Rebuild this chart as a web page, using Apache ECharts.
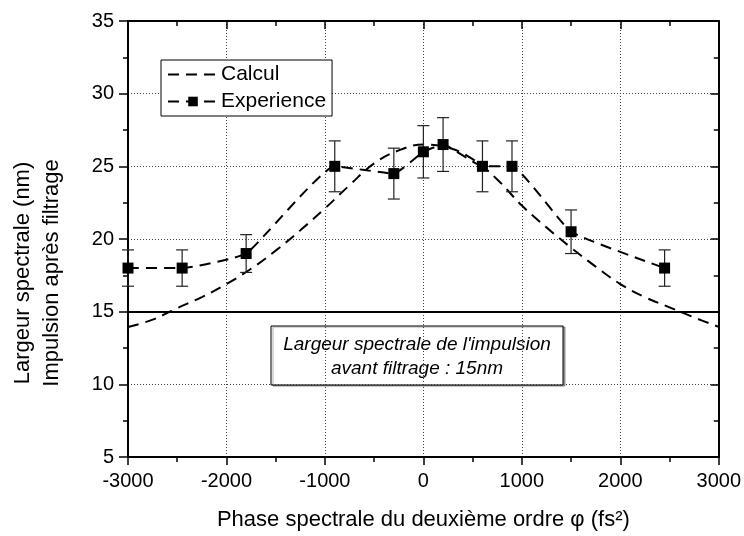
<!DOCTYPE html>
<html>
<head>
<meta charset="utf-8">
<script src="https://cdn.jsdelivr.net/npm/echarts@6/dist/echarts.min.js"></script>
<style>
  html, body { margin: 0; padding: 0; background: #fff; }
  #chart { width: 744px; height: 536px; }
</style>
</head>
<body>
<div id="chart"></div>
<script>
// Calculated spectral width versus second-order spectral phase
const calculPhase = [-3000, -2750, -2500, -2250, -2000, -1750, -1500, -1250, -1000, -750, -500, -250,
                     0, 250, 500, 750, 1000, 1250, 1500, 1750, 2000, 2250, 2500, 2750, 3000];
const calculWidth = [13.95, 14.45, 15.25, 16.0, 16.9, 17.95, 19.2, 20.6, 22.1, 23.7, 25.2, 26.1,
                     26.5, 26.3, 25.5, 24.1, 22.3, 20.8, 19.4, 18.1, 16.9, 16.0, 15.3, 14.6, 13.95];

// Measured spectral width with its uncertainty
const expPhase = [-3000, -2450, -1800, -900, -300, 0, 200, 600, 900, 1500, 2450];
const expWidth = [18, 18, 19, 25, 24.5, 26, 26.5, 25, 25, 20.5, 18];
const expError = [1.25, 1.25, 1.3, 1.75, 1.75, 1.8, 1.85, 1.75, 1.75, 1.5, 1.25];

// Spectral width of the pulse before filtering (nm)
const initialWidth = 15;

const xTicks = { min: -3000, max: 3000, step: 1000 };
const yTicks = { min: 5, max: 35, step: 5 };

const FONT = '"Liberation Sans", Arial, Helvetica, sans-serif';

const calculData = calculPhase.map((x, i) => [x, calculWidth[i]]);
const expData = expPhase.map((x, i) => [x, expWidth[i]]);
const errData = expPhase.map((x, i) => [x, expWidth[i] - expError[i], expWidth[i] + expError[i]]);

const chart = echarts.init(document.getElementById('chart'), null, { renderer: 'canvas' });

const frameAxisLine = { show: true, onZero: false, lineStyle: { color: '#000', width: 2 } };
const tickLine = { color: '#000', width: 1.5 };
const gridDots = { show: true, lineStyle: { color: '#444', width: 1, type: [1, 2] } };
const plainNumber = v => String(v);

const option = {
  animation: false,
  backgroundColor: '#fff',
  grid: { left: 128, right: 23, top: 21, bottom: 78, containLabel: false },
  xAxis: [
    {
      type: 'value', min: xTicks.min, max: xTicks.max, interval: xTicks.step,
      axisLine: frameAxisLine,
      axisTick: { show: true, inside: false, length: 8, lineStyle: tickLine },
      minorTick: { show: true, splitNumber: 2, length: 5, lineStyle: tickLine },
      axisLabel: { color: '#000', fontFamily: FONT, fontSize: 20, margin: 14, formatter: plainNumber },
      splitLine: gridDots,
      name: 'Phase spectrale du deuxième ordre φ (fs²)',
      nameLocation: 'middle', nameGap: 52,
      nameTextStyle: { color: '#000', fontFamily: FONT, fontSize: 22 }
    },
    {
      type: 'value', position: 'top', min: xTicks.min, max: xTicks.max, interval: xTicks.step,
      axisLine: frameAxisLine,
      axisTick: { show: true, inside: true, length: 8, lineStyle: tickLine },
      minorTick: { show: true, splitNumber: 2, length: 5, lineStyle: tickLine },
      axisLabel: { show: false },
      splitLine: { show: false }
    }
  ],
  yAxis: [
    {
      type: 'value', min: yTicks.min, max: yTicks.max, interval: yTicks.step,
      axisLine: frameAxisLine,
      axisTick: { show: true, inside: false, length: 9, lineStyle: tickLine },
      minorTick: { show: true, splitNumber: 2, length: 5, lineStyle: tickLine },
      axisLabel: { color: '#000', fontFamily: FONT, fontSize: 20, margin: 14, formatter: plainNumber },
      splitLine: gridDots
    },
    {
      type: 'value', position: 'right', min: yTicks.min, max: yTicks.max, interval: yTicks.step,
      axisLine: frameAxisLine,
      axisTick: { show: true, inside: true, length: 8, lineStyle: tickLine },
      minorTick: { show: true, splitNumber: 2, length: 5, lineStyle: tickLine },
      axisLabel: { show: false },
      splitLine: { show: false }
    }
  ],
  legend: {
    data: [
      { name: 'Calcul', itemStyle: { opacity: 0 } },
      { name: 'Experience' }
    ],
    orient: 'vertical',
    left: 161, top: 60,
    padding: [4, 6, 4, 6],
    itemWidth: 50, itemHeight: 12, itemGap: 6,
    borderColor: '#000', borderWidth: 1,
    backgroundColor: '#fff',
    textStyle: { color: '#000', fontFamily: FONT, fontSize: 21, padding: [0, 0, 0, -2] },
    selectedMode: false
  },
  series: [
    {
      name: 'Calcul',
      type: 'line',
      data: calculData,
      smooth: 0.4,
      symbol: 'none',
      lineStyle: { color: '#000', width: 2, type: [11, 7] },
      itemStyle: { color: '#000' },
      z: 3,
      markLine: {
        silent: true,
        symbol: 'none',
        label: { show: false },
        lineStyle: { color: '#000', width: 2, type: 'solid' },
        data: [{ yAxis: initialWidth }]
      }
    },
    {
      name: 'Experience',
      type: 'line',
      data: expData,
      smooth: 0.12,
      symbol: 'rect',
      symbolSize: 11,
      lineStyle: { color: '#000', width: 2, type: [11, 7] },
      itemStyle: { color: '#000' },
      z: 5
    },
    {
      name: 'errorBars',
      type: 'custom',
      data: errData,
      z: 4,
      renderItem: function (params, api) {
        const x = api.value(0);
        const lo = api.coord([x, api.value(1)]);
        const hi = api.coord([x, api.value(2)]);
        const half = 6;
        const style = { stroke: '#222', lineWidth: 1.2, fill: null };
        return {
          type: 'group',
          children: [
            { type: 'line', shape: { x1: hi[0], y1: hi[1], x2: lo[0], y2: lo[1] }, style: style },
            { type: 'line', shape: { x1: hi[0] - half, y1: hi[1], x2: hi[0] + half, y2: hi[1] }, style: style },
            { type: 'line', shape: { x1: lo[0] - half, y1: lo[1], x2: lo[0] + half, y2: lo[1] }, style: style }
          ]
        };
      }
    }
  ],
  graphic: [
    // two-line vertical axis title
    {
      type: 'text',
      rotation: Math.PI / 2,
      x: 23, y: 273,
      style: {
        text: 'Largeur spectrale (nm)', fill: '#000',
        font: '22px ' + FONT, textAlign: 'center', textVerticalAlign: 'middle'
      }
    },
    {
      type: 'text',
      rotation: Math.PI / 2,
      x: 52, y: 273,
      style: {
        text: 'Impulsion après filtrage', fill: '#000',
        font: '22px ' + FONT, textAlign: 'center', textVerticalAlign: 'middle'
      }
    },
    // annotation box for the initial pulse width
    {
      type: 'group', x: 271, y: 326,
      children: [
        {
          type: 'rect', shape: { x: 0, y: 0, width: 292, height: 59 },
          style: { fill: '#fff', stroke: '#000', lineWidth: 1, shadowColor: 'rgba(0,0,0,0.35)', shadowOffsetX: 2, shadowOffsetY: 1, shadowBlur: 1 }
        },
        {
          type: 'text', x: 146, y: 19,
          style: { text: "Largeur spectrale de l'impulsion", fill: '#000', font: 'italic 19px ' + FONT, textAlign: 'center', textVerticalAlign: 'middle' }
        },
        {
          type: 'text', x: 146, y: 43,
          style: { text: 'avant filtrage : ' + initialWidth + 'nm', fill: '#000', font: 'italic 19px ' + FONT, textAlign: 'center', textVerticalAlign: 'middle' }
        }
      ]
    }
  ]
};

chart.setOption(option);
</script>
</body>
</html>
